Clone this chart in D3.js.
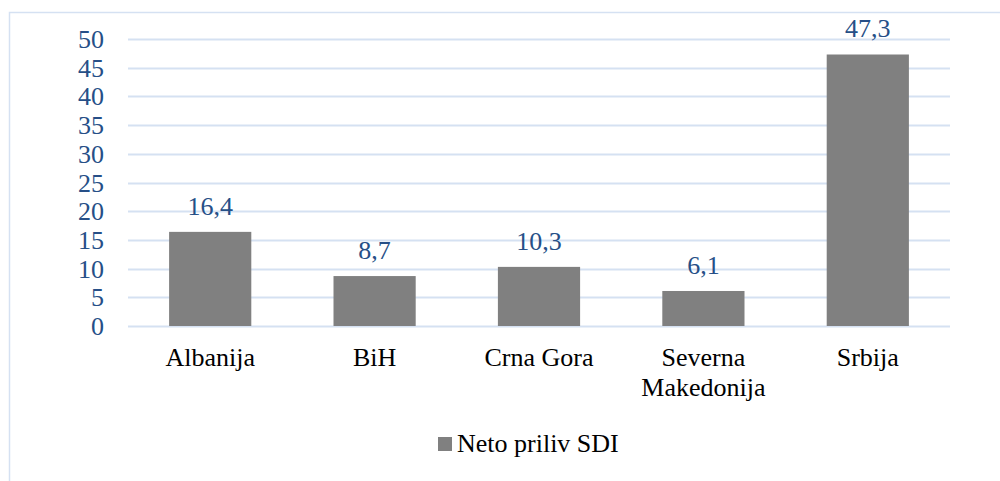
<!DOCTYPE html>
<html>
<head>
<meta charset="utf-8">
<script src="https://cdn.jsdelivr.net/npm/d3@7"></script>
</head>
<body style="margin:0">
<svg id="fdi" width="1000" height="481" style="display:block"></svg>
<script>
// data
const categories = ['Albanija', 'BiH', 'Crna Gora', 'Severna Makedonija', 'Srbija'];
const values = [16.4, 8.7, 10.3, 6.1, 47.3];
const yTicks = [0, 5, 10, 15, 20, 25, 30, 35, 40, 45, 50];
const seriesName = 'Neto priliv SDI';

// constants
const font = 'Times New Roman';
const blue = '#264f87';
const gridColor = '#d5e1f2';
const barColor = '#808080';
const margin = { top: 39, left: 128, right: 50 };
const width = 1000;

const svg = d3.select('#fdi');

// every label goes through this so the serif face is set the same way
function serif(sel) {
  sel.attr('font-family', font)
     .style('font-family', d => `"${font}"`)
     .attr('font-size', 26);
}

// outer frame (runs off right and bottom edges)
svg.append('rect')
    .attr('x', 9.5)
    .attr('y', 12.5)
    .attr('width', 1000)
    .attr('height', 500)
    .attr('fill', 'none')
    .attr('stroke', gridColor)
    .attr('stroke-width', 1.5);

// scales
const x = d3.scaleBand()
    .domain(categories)
    .range([margin.left, width - margin.right])
    .paddingInner(0.5)
    .paddingOuter(0.25);

const y = d3.scaleLinear()
    .domain([0, 50])
    .range([326, margin.top]);

// gridlines
svg.append('g')
  .selectAll('line')
  .data(yTicks)
  .join('line')
    .attr('x1', margin.left)
    .attr('x2', width - margin.right)
    .attr('y1', d => Math.round(y(d)) + 0.5)
    .attr('y2', d => Math.round(y(d)) + 0.5)
    .attr('stroke', gridColor)
    .attr('stroke-width', 2);

// y axis labels
svg.append('g')
  .selectAll('text')
  .data(yTicks)
  .join('text')
    .attr('x', 104)
    .attr('y', d => y(d) + 9)
    .attr('text-anchor', 'end')
    .attr('fill', blue)
    .call(serif)
    .text(d => d);

// bars
svg.append('g')
  .selectAll('rect')
  .data(values)
  .join('rect')
    .attr('x', (d, i) => x(categories[i]))
    .attr('y', d => y(d))
    .attr('width', x.bandwidth())
    .attr('height', d => y(0) - y(d))
    .attr('fill', barColor);

// data labels
svg.append('g')
  .selectAll('text')
  .data(values)
  .join('text')
    .attr('x', (d, i) => x(categories[i]) + x.bandwidth() / 2)
    .attr('y', d => y(d) - 17)
    .attr('text-anchor', 'middle')
    .attr('fill', blue)
    .call(serif)
    .text(d => d.toFixed(1).replace('.', ','));

// category labels (wrapped)
svg.append('g')
  .selectAll('text')
  .data(categories)
  .join('text')
    .attr('x', d => x(d) + x.bandwidth() / 2)
    .attr('y', 366)
    .attr('text-anchor', 'middle')
    .attr('fill', '#000')
    .call(serif)
    .each(function(d) {
      const words = d === 'Severna Makedonija' ? ['Severna', 'Makedonija'] : [d];
      const t = d3.select(this);
      words.forEach((w, i) => {
        t.append('tspan')
            .attr('x', x(d) + x.bandwidth() / 2)
            .attr('dy', i === 0 ? 0 : 30)
            .text(w);
      });
    });

// legend
const legend = svg.append('g').attr('transform', 'translate(438, 437)');
legend.append('rect')
    .attr('width', 14)
    .attr('height', 14)
    .attr('fill', barColor);
legend.append('text')
    .attr('x', 19)
    .attr('y', 15)
    .attr('fill', '#000')
    .call(serif)
    .text(seriesName);
</script>
</body>
</html>
